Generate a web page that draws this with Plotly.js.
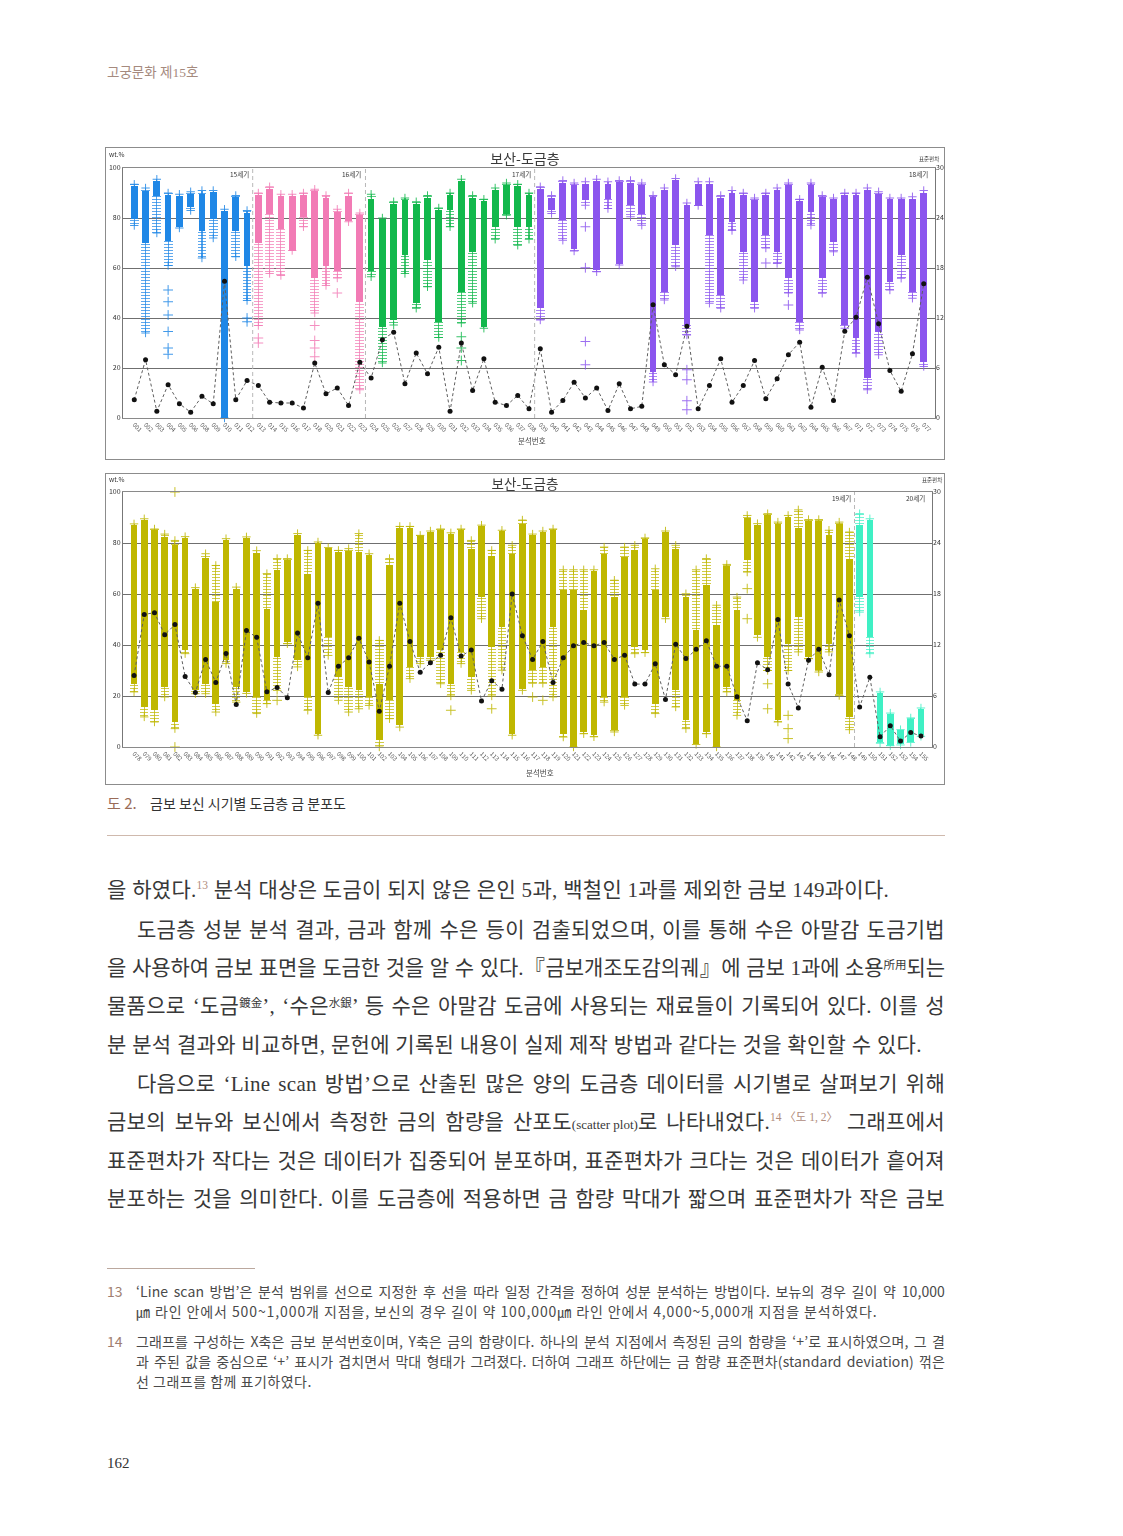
<!DOCTYPE html>
<html><head><meta charset="utf-8">
<script src="https://cdn.plot.ly/plotly-3.0.1.min.js"></script>
<style>
body{margin:0;background:#fff;}
#page{position:relative;width:1123px;height:1536px;overflow:hidden;font-family:'Liberation Serif','Noto Sans CJK KR',serif;color:#383838;}
.abs{position:absolute;white-space:nowrap;}
.frame{position:absolute;border:1.5px solid #8c8c8c;box-sizing:border-box;pointer-events:none;}
.plot{position:absolute;}
.ln{position:absolute;font-size:21px;letter-spacing:0.3px;line-height:26px;height:26px;overflow:visible;white-space:nowrap;}
.j{text-align:justify;text-align-last:justify;}
.sup{display:inline-block;font-size:11.5px;line-height:12px;vertical-align:8px;color:#b08c7c;letter-spacing:0;}
.sm{display:inline-block;font-size:11.5px;line-height:12px;vertical-align:6px;letter-spacing:0;}
.sc{display:inline-block;font-size:13px;letter-spacing:0;}
.fn{position:absolute;left:136px;width:809px;font-family:'Noto Sans CJK KR',sans-serif;font-size:14px;letter-spacing:0.1px;line-height:20px;height:20px;color:#4a4a4a;white-space:nowrap;}
.fnn{position:absolute;left:107px;font-family:'Noto Sans CJK KR',sans-serif;font-size:14px;line-height:20px;color:#a07e70;}
</style>
</head><body><div id="page">

<div class="abs" style="left:107px;top:63px;font-size:13.5px;line-height:20px;color:#a58a7e;">고궁문화 제15호</div>

<div id="chartTop" class="plot" style="left:105px;top:147px;width:840px;height:313px;"></div>
<div class="frame" style="left:105px;top:147px;width:840px;height:313px;"></div>
<div id="chartBot" class="plot" style="left:105px;top:473px;width:840px;height:312px;"></div>
<div class="frame" style="left:105px;top:473px;width:840px;height:312px;"></div>

<div class="abs" style="left:107px;top:793px;font-family:'Noto Sans CJK KR',sans-serif;font-size:15px;line-height:20px;color:#9a6c58;">도 2.</div>
<div class="abs" style="left:150px;top:793px;font-family:'Noto Sans CJK KR',sans-serif;font-size:14px;line-height:20px;color:#333;">금보 보신 시기별 도금층 금 분포도</div>
<div class="abs" style="left:107px;top:835px;width:838px;height:1px;background:#cfb9ad;"></div>

<div class="ln" style="left:107px;top:877px;">을 하였다.<span class="sup">13</span> 분석 대상은 도금이 되지 않은 은인 5과, 백철인 1과를 제외한 금보 149과이다.</div>
<div class="ln j" style="left:137px;width:808px;top:917px;">도금층 성분 분석 결과, 금과 함께 수은 등이 검출되었으며, 이를 통해 수은 아말감 도금기법</div>
<div class="ln j" style="left:107px;width:838px;top:955px;letter-spacing:-0.1px;">을 사용하여 금보 표면을 도금한 것을 알 수 있다.『금보개조도감의궤』에 금보 1과에 소용<span class="sm">所用</span>되는</div>
<div class="ln j" style="left:107px;width:838px;top:993px;">물품으로 ‘도금<span class="sm">鍍金</span>’, ‘수은<span class="sm">水銀</span>’ 등 수은 아말감 도금에 사용되는 재료들이 기록되어 있다. 이를 성</div>
<div class="ln" style="left:107px;top:1032px;">분 분석 결과와 비교하면, 문헌에 기록된 내용이 실제 제작 방법과 같다는 것을 확인할 수 있다.</div>
<div class="ln j" style="left:137px;width:808px;top:1071px;">다음으로 ‘Line scan 방법’으로 산출된 많은 양의 도금층 데이터를 시기별로 살펴보기 위해</div>
<div class="ln j" style="left:107px;width:838px;top:1109px;">금보의 보뉴와 보신에서 측정한 금의 함량을 산포도<span class="sc">(scatter plot)</span>로 나타내었다.<span class="sup">14 〈도 1, 2〉</span> 그래프에서</div>
<div class="ln j" style="left:107px;width:838px;top:1148px;">표준편차가 작다는 것은 데이터가 집중되어 분포하며, 표준편차가 크다는 것은 데이터가 흩어져</div>
<div class="ln j" style="left:107px;width:838px;top:1186px;">분포하는 것을 의미한다. 이를 도금층에 적용하면 금 함량 막대가 짧으며 표준편차가 작은 금보</div>

<div class="abs" style="left:107px;top:1268px;width:148px;height:1px;background:#bba89e;"></div>
<div class="fnn" style="top:1281px;">13</div>
<div class="fn j" style="top:1281px;">‘Line scan 방법’은 분석 범위를 선으로 지정한 후 선을 따라 일정 간격을 정하여 성분 분석하는 방법이다. 보뉴의 경우 길이 약 10,000</div>
<div class="fn" style="top:1301px;letter-spacing:0.9px;">㎛ 라인 안에서 500~1,000개 지점을, 보신의 경우 길이 약 100,000㎛ 라인 안에서 4,000~5,000개 지점을 분석하였다.</div>
<div class="fnn" style="top:1331px;">14</div>
<div class="fn j" style="top:1331px;">그래프를 구성하는 X축은 금보 분석번호이며, Y축은 금의 함량이다. 하나의 분석 지점에서 측정된 금의 함량을 ‘+’로 표시하였으며, 그 결</div>
<div class="fn j" style="top:1351px;">과 주된 값을 중심으로 ‘+’ 표시가 겹치면서 막대 형태가 그려졌다. 더하여 그래프 하단에는 금 함량 표준편차(standard deviation) 꺾은</div>
<div class="fn" style="top:1371px;letter-spacing:0.5px;">선 그래프를 함께 표기하였다.</div>

<div class="abs" style="left:107px;top:1452px;font-size:15px;line-height:22px;color:#333;">162</div>
</div>

<script>
// ---------------- Chart 1 (top): 001 - 077 ----------------
const topLabels = ['001','002','003','004','005','006','008','009','010','011','012','013','014','015','016','017','018','020','021','022','023','024','025','026','027','028','029','030','031','032','033','034','035','036','037','038','039','040','041','042','043','044','045','046','047','048','049','050','051','052','053','054','055','056','057','058','059','060','061','063','064','065','066','067','071','072','073','074','075','076','077'];
const topCapHi = [93.5,92,95.5,90,89.5,90.5,91,91,83.5,89,83, 90,92.5,89.5,89.5,90,91.5,89,83.5,90,82, 89.5,80,86.5,88,86.5,89,84,90,95.5,89,87.5,92,94,93.5,90, 92.5,89,95,94,94.5,95.5,94.5,95,95,94,89,92,95.8,86,94.5,94.5,89,91,90,88,90,92,94,87.5,94,89,88,90,90,92,90.5,88,88,88.5,91];
const topDenseHi = [92.8,91,95,89.4,89,89.8,89.8,90.4,82.7,88.4,82.2, 89.4,91.8,88.8,89,89.4,90.7,88,82.4,89,81.4, 87.8,79.5,85.8,87.1,85.8,88,83.1,89.4,94.7,88,86.7,91.1,93.1,92.8,89.1, 91.8,88,94.1,93.4,93.8,94.7,93.8,94.4,94.1,93.4,88.4,91.4,95.1,85.4,93.8,93.8,88.2,90.2,89.4,87.1,89.4,91.1,93.4,86.7,93.4,88.4,87.5,89.1,89.4,91.1,89.8,87.5,87.5,87.8,90.2];
const topDenseLo = [79.8,70,89,71,76.5,84.4,75,79.8,0,75,61, 70,81.8,75.8,67,80.5,56,61,59,79,46.5, 59,36.6,39.2,65.2,45.9,63.2,38.6,83.1,50.5,66.5,36.6,76.5,81.8,76.5,76.5, 43.9,83.1,79.1,67.8,87.1,59.2,87.8,61.8,85.1,81.8,18.6,50.5,69.1,37.2,85.4,73.1,49.2,78.5,66.5,46.5,73.1,66.5,55.9,38.6,82.4,55.9,70.5,37.2,31.9,16,34.6,54.5,65.2,50.5,22.6];
const topCapLo = [77,34,74,61,76,83,64,72,0,64.5,47, 37,57.8,57,67,76.5,42,53,56,78.5,11.3, 56.5,22,37.2,57.8,43.9,52.5,32.2,76.5,38,45.9,35.9,71.5,81.1,69.1,71.5, 39.2,81.8,71.1,66.8,85.1,58.5,83.8,61.2,80.5,77.1,14.4,47.2,60.5,33.2,85,45.9,43.9,75,55.2,43.9,68,61.8,50,35.2,77.1,49.9,66.5,35.9,25.9,11.3,25.3,51.2,55.9,47.9,20.6];
const topStd = [2.2,7.0,0.8,4.0,1.7,0.7,2.6,1.7,16.4,2.2,4.5, 3.9,1.9,1.8,1.8,1.2,6.6,2.9,3.6,1.5,6.7, 4.8,9.4,10.3,4.1,7.8,5.3,8.5,0.8,9.0,3.3,7.1,1.9,1.5,2.7,1.1, 8.3,0.7,2.1,4.3,2.4,3.6,0.9,4.1,1.1,1.4,13.6,6.4,5.2,11.0,1.1,3.9,7.1,1.9,3.9,6.9,2.3,4.7,7.6,9.1,1.3,6.1,2.1,10.4,12.1,16.9,11.3,5.7,3.2,7.7,16.1];
const topOutX = ['004','004','004','004','004','004','012','012','013','013','018','018','018','018','021','032','032','032','043','043','043','043','052','052','052','052','059','061'];
const topOutY = [51.2,46.5,41.2,34.6,28,25.5,40,38.5,32,30,37,31,28,24.5,50,32.5,28,23,76.5,60.1,30.6,21.3,19.3,15.3,6.9,3.3,62,45.2];
const topGroupSizes = [11,10,15,35];
const topGroupColors = ['#1f87e6','#f27bb5','#12b84c','#8b55ee'];
const topPeriods = ['15세기','16세기','17세기','18세기'];

// ---------------- Chart 2 (bottom): 078 - 155 ----------------
const botLabels = ['078','079','080','081','082','083','084','085','086','087','088','089','090','091','092','093','094','095','096','097','098','099','100','101','102','103','104','105','106','107','108','109','110','111','112','113','114','115','116','117','118','119','120','121','122','123','124','125','126','127','128','129','130','131','132','133','134','135','136','137','138','139','140','141','142','143','144','145','146','147','148','149','150','151','152','153','154','155'];
const botCapHi = [87.5,89.5,85.5,83.5,81,82.5,62.5,75.8,71.2,81.7,62.7,82.4,77,68,73.9,73.9,83.7,77.1,80.4,78.2,77.1,77.8,83.7,75.8,41.8,73.9, 86.5,86.5,83,84.7,85.5,84,85.5,81,87,77.1,85,79.1,89,83.5,84.7,85.5,69.5,69.5,69.5,69.5,78.4,65.4,78.4,79.1,82,69.9,84.7, 79.1,60.1,69.5,73.9,55.6,71.6,58.8,90.8,87.6,91.5,88.2,90.8,93,89.2,89.2,85,88.2,84.3, 91.5,89.5,21.6,13.3,6.8,11.4,15.3];
const botDenseHi = [86.9,88.9,85,82.4,79.1,82,62.1,74.2,57,81,62,82,76,54.2,69.3,73.5,83,68,80,78,76.5,77,76.5,75.2,24.8,71.2, 86,86,82.6,84.3,85,83.7,85.2,77.8,86.5,74.8,84.7,75.8,87.6,83,84.3,85,61.4,61.4,53.6,69,75.8,58.8,74.5,77.1,81.7,61.4,84.3, 77.8,59,45.8,63.4,47.7,71,53.6,90,87,91,87.6,90.2,86,88.6,88.6,83,87.6,73.9, 86.9,89,21,13,6.5,11,15];
const botDenseLo = [24.8,15.7,14.4,23.5,9.8,37.9,22.2,24.8,17,34,23.5,21.6,19.6,18.3,35.3,41.2,34,19.6,5.2,43.1,27.5,23.5,22.2,19.6,2.6,18.3, 8.5,31.4,35.3,35.3,37.9,24.8,37.3,27.5,58.8,39.2,47.1,5.2,22.9,30.1,31.4,47.1,5.2,0,5.9,4.6,19.6,6.5,19.6,39.2,37.9,17,51, 22.2,10.5,1.3,5.9,0,23.5,18.3,73.2,43.8,35.3,10.5,40.5,51,35.3,30.1,40.5,20.9,11.8, 58.8,43.1,2,0.7,1,2,4.6];
const botCapLo = [21.6,11.8,9.8,19.6,7.2,36.6,20.9,20.9,13.7,32.7,17.6,21,13.1,17,22.2,40.5,31.4,14.4,4.6,35.9,18.3,13.7,15,16.3,0,11.1, 7.8,26.8,32.7,34,24.8,20,32.7,22.2,50.3,20,30.1,4.6,22.2,25,25,19.6,3.9,0,5.2,4,17.6,5.9,16.3,36.6,37,13.1,50.3, 15.7,7.2,1,5.2,0,21.6,12.4,68.6,43,30,9.8,30,37.3,34.6,29.4,37.3,20.2,6.8, 52.9,36.6,1.5,0.5,0.8,1.8,4.2];
const botStd = [8.4,15.6,15.8,13.2,14.4,8.3,6.4,10.3,7.6,11.0,5.0,13.7,12.9,6.5,7.0,5.8,13.4,10.5,16.9,6.4,9.5,10.5,12.8,10.0,4.2,9.5, 16.9,12.4,8.8,9.9,10.8,15.2,10.7,11.4,5.4,7.8,6.8,18.0,13.1,10.3,12.4,7.6,10.5,11.9,12.3,11.9,12.3,10.3,10.8,7.4,7.4,9.8,5.6, 12.1,10.4,11.5,12.5,9.5,9.5,5.9,3.1,9.9,9.1,15.0,7.4,4.6,10.2,11.5,8.5,17.3,13.1, 4.7,8.2,1.2,2.5,0.7,1.7,1.3];
const botOutX = ['082','082','092','109','113','117','118','138','138','140','140','142','142','142'];
const botOutY = [100,0,18.3,14.4,15,19.6,18.3,62.1,50.3,24.8,15,12.4,7.2,3.3];
const botGroupSizes = [71,7];
const botGroupColors = ['#bfb700','#3ff0c4'];
const botPeriods = ['19세기','20세기'];

const chartTitle = '보산-도금층';
const xTitle = '분석번호';
const yLeftTitle = 'wt.%';
const yRightTitle = '표준편차';

const FONT = "'Noto Sans CJK KR','Noto Sans',sans-serif";

function build(divId, o) {
  const traces = [];
  let start = 0;
  const groupOf = [];
  o.sizes.forEach((n, gi) => {
    const idx = [];
    for (let i = start; i < start + n; i++) { idx.push(i); groupOf[i] = gi; }
    start += n;
    const col = o.colors[gi];
    const xs = idx.map(i => o.labels[i]);
    const pat = {shape:'-', size:3, solidity:0.32};
    // sparse lower part (stack of "+")
    traces.push({type:'bar', x:xs, base:idx.map(i=>o.capLo[i]), y:idx.map(i=>o.denseLo[i]-o.capLo[i]),
      width:o.tailW, opacity:0.75, marker:{color:col, line:{width:0}, pattern:pat}, hoverinfo:'skip'});
    // sparse upper part
    traces.push({type:'bar', x:xs, base:idx.map(i=>o.denseHi[i]), y:idx.map(i=>o.capHi[i]-o.denseHi[i]),
      width:o.tailW, opacity:0.75, marker:{color:col, line:{width:0}, pattern:pat}, hoverinfo:'skip'});
    // vertical stroke of the "+" stack
    traces.push({type:'bar', x:xs, base:idx.map(i=>o.capLo[i]), y:idx.map(i=>o.capHi[i]-o.capLo[i]),
      width:0.1, marker:{color:col, line:{width:0}}, opacity:0.75, hoverinfo:'skip'});
    // dense core
    traces.push({type:'bar', x:xs, base:idx.map(i=>o.denseLo[i]), y:idx.map(i=>o.denseHi[i]-o.denseLo[i]),
      width:o.denseW, marker:{color:col, line:{width:0}}, hoverinfo:'skip'});
    // end "+" markers
    traces.push({type:'scatter', mode:'markers', x:xs.concat(xs), y:idx.map(i=>o.capHi[i]).concat(idx.map(i=>o.capLo[i])),
      marker:{symbol:'cross-thin', size:6, line:{color:col, width:1}}, opacity:0.85, hoverinfo:'skip', cliponaxis:false});
  });
  // isolated "+" points
  traces.push({type:'scatter', mode:'markers', x:o.outX, y:o.outY,
    marker:{symbol:'cross-thin', size:7, line:{color:o.outX.map(l=>o.colors[groupOf[o.labels.indexOf(l)]]), width:1}},
    opacity:0.85, hoverinfo:'skip', cliponaxis:false});
  // standard deviation line
  traces.push({type:'scatter', mode:'lines+markers', x:o.labels, y:o.std, yaxis:'y2',
    line:{color:'#5e5e5e', width:1, dash:'3px,2.5px'}, marker:{color:'#111', size:5}, hoverinfo:'skip'});

  const shapes = [], ann = [];
  let b = -0.5;
  o.sizes.forEach((n, gi) => {
    b += n;
    const last = gi === o.sizes.length - 1;
    if (!last) {
      shapes.push({type:'line', xref:'x', yref:'y', x0:b, x1:b, y0:0, y1:100, layer:'above',
        line:{color:'#b8b8b8', width:1, dash:'4px,3px'}});
    }
    ann.push({xref:'x', yref:'y', x:last ? o.xr[1] : b, y:97.5, text:o.periods[gi], showarrow:false,
      xanchor:'right', yanchor:'middle', xshift:last ? -5 : -2, font:{family:FONT, size:6.5, color:'#333'}});
  });
  ann.push({xref:'paper', yref:'paper', x:o.xtPos[0], y:o.xtPos[1], text:xTitle, showarrow:false,
    xanchor:'center', yanchor:'middle', font:{family:FONT, size:7.5, color:'#444'}});
  ann.push({xref:'paper', yref:'paper', x:o.wtPos[0], y:o.wtPos[1], text:yLeftTitle, showarrow:false,
    xanchor:'left', yanchor:'middle', font:{family:FONT, size:6.5, color:'#333'}});
  ann.push({xref:'paper', yref:'paper', x:o.sdPos[0], y:o.sdPos[1], text:yRightTitle, showarrow:false,
    xanchor:'right', yanchor:'middle', font:{family:FONT, size:5.5, color:'#333'}});

  const layout = {
    width:840, height:o.h, margin:o.margin,
    paper_bgcolor:'rgba(0,0,0,0)', plot_bgcolor:'#ffffff',
    showlegend:false, barmode:'overlay', bargap:0,
    font:{family:FONT, color:'#333'},
    title:{text:chartTitle, font:{family:FONT, size:o.titleSize, color:'#3a3a3a'}, x:0.5, xanchor:'center',
      y:o.titleY, yref:'container', yanchor:'middle'},
    xaxis:{type:'category', range:o.xr, dtick:1, tickangle:45, tickfont:{family:FONT, size:6, color:'#555'},
      showgrid:false, showline:true, mirror:true, linecolor:'#8a8a8a', linewidth:1, ticks:'', zeroline:false},
    yaxis:{range:[0,100], dtick:20, tickfont:{family:FONT, size:7, color:'#333'}, showgrid:true,
      gridcolor:'#6f6f6f', gridwidth:1, showline:true, mirror:true, linecolor:'#777', linewidth:1,
      ticks:'', zeroline:false},
    yaxis2:{overlaying:'y', side:'right', range:[0,30], dtick:6, tickfont:{family:FONT, size:7, color:'#333'},
      showgrid:false, showline:false, zeroline:false, ticks:''},
    shapes:shapes, annotations:ann
  };
  Plotly.newPlot(divId, traces, layout, {staticPlot:true, displayModeBar:false});
}

build('chartTop', {
  labels:topLabels, capHi:topCapHi, denseHi:topDenseHi, denseLo:topDenseLo, capLo:topCapLo, std:topStd,
  outX:topOutX, outY:topOutY, sizes:topGroupSizes, colors:topGroupColors, periods:topPeriods,
  h:313, margin:{l:18, r:10, t:21, b:42}, xr:[-1, 71], denseW:0.6, tailW:0.78, titleY:0.962, titleSize:14,
  xtPos:[0.504, -0.09], wtPos:[-0.02, 1.055], sdPos:[1.008, 1.035]
});
build('chartBot', {
  labels:botLabels, capHi:botCapHi, denseHi:botDenseHi, denseLo:botDenseLo, capLo:botCapLo, std:botStd,
  outX:botOutX, outY:botOutY, sizes:botGroupSizes, colors:botGroupColors, periods:botPeriods,
  h:312, margin:{l:18, r:13, t:19, b:38}, xr:[-1.08, 78.08], denseW:0.65, tailW:0.82, titleY:0.965, titleSize:13.5,
  xtPos:[0.515, -0.099], wtPos:[-0.02, 1.05], sdPos:[1.015, 1.046]
});
</script>
</body></html>
